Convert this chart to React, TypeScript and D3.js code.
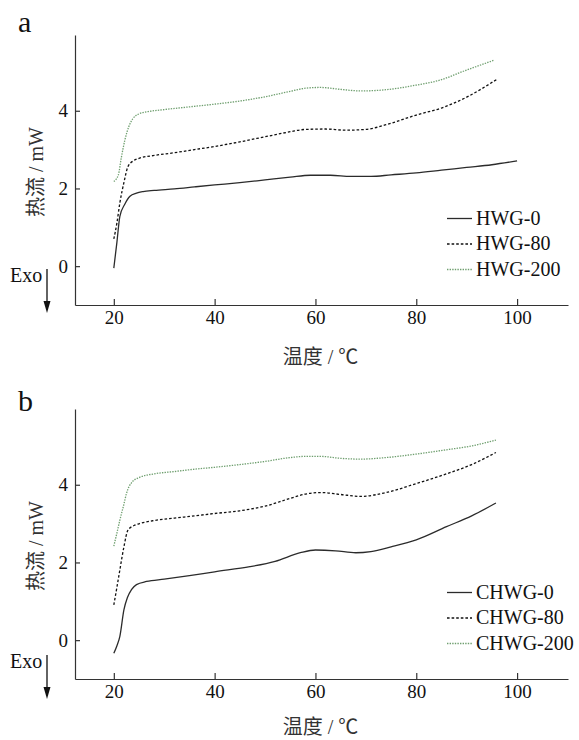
import React, { useRef, useEffect } from "react";
import * as d3 from "d3";

// ---- panel a (HWG) : temperature (°C) / heat flow (mW)
const hwg0T = [20, 20.6, 21.2, 22.2, 23.2, 24.5, 25.8, 28, 32, 36, 40, 45, 50, 55, 59, 63, 67, 71, 75, 80, 85, 90, 95, 100];
const hwg0Q = [-0.05, 0.6, 1.28, 1.6, 1.8, 1.88, 1.92, 1.95, 1.99, 2.04, 2.09, 2.15, 2.22, 2.29, 2.34, 2.34, 2.31, 2.31, 2.35, 2.4, 2.47, 2.54, 2.61, 2.71];
const hwg80T = [20, 20.6, 21.2, 22, 22.8, 24, 25.1, 28, 32, 36, 40, 45, 50, 55, 58, 62, 66, 70, 75, 80, 85, 90, 96];
const hwg80Q = [0.7, 1.1, 1.63, 2.15, 2.56, 2.72, 2.78, 2.85, 2.92, 3.0, 3.08, 3.2, 3.33, 3.46, 3.52, 3.53, 3.5, 3.52, 3.68, 3.89, 4.07, 4.35, 4.81];
const hwg200T = [20, 20.9, 21.5, 22.2, 23, 23.8, 25, 26.5, 30, 35, 40, 45, 50, 55, 58, 61, 65, 69, 73, 80, 85, 89, 95.4];
const hwg200Q = [2.18, 2.35, 2.8, 3.25, 3.6, 3.8, 3.92, 3.97, 4.03, 4.1, 4.17, 4.25, 4.36, 4.5, 4.58, 4.6, 4.55, 4.51, 4.53, 4.66, 4.8, 5.0, 5.3];

// ---- panel b (CHWG)
const chwg0T = [20, 20.6, 21.2, 22, 22.7, 23.5, 24.5, 26.5, 30, 35, 40, 47, 52, 57, 60, 64, 68, 71, 75, 80, 86, 91, 95.8];
const chwg0Q = [-0.34, -0.15, 0.1, 0.78, 1.1, 1.3, 1.43, 1.51, 1.57, 1.66, 1.76, 1.89, 2.03, 2.25, 2.32, 2.3, 2.25, 2.28, 2.4, 2.58, 2.92, 3.2, 3.53];
const chwg80T = [20, 20.6, 21.2, 22, 22.8, 24, 25.1, 28, 32, 36, 40, 45, 50, 55, 58, 61, 65, 69, 74, 80, 86, 91, 95.8];
const chwg80Q = [0.91, 1.35, 1.81, 2.4, 2.83, 2.95, 3.0, 3.08, 3.14, 3.2, 3.26, 3.33, 3.45, 3.65, 3.76, 3.8, 3.75, 3.7, 3.8, 4.03, 4.28, 4.52, 4.83];
const chwg200T = [20, 20.6, 21.2, 22, 22.5, 23.5, 25.1, 28, 32, 36, 40, 45, 50, 55, 58, 61, 65, 69, 74, 80, 86, 91, 95.8];
const chwg200Q = [2.42, 2.75, 3.09, 3.5, 3.77, 4.05, 4.19, 4.28, 4.34, 4.4, 4.45, 4.52, 4.6, 4.7, 4.73, 4.73, 4.68, 4.66, 4.7, 4.79, 4.9, 5.0, 5.15];

const namesA = ["HWG-0", "HWG-80", "HWG-200"];
const namesB = ["CHWG-0", "CHWG-80", "CHWG-200"];

const xTicks = [20, 40, 60, 80, 100];
const yTicks = [0, 2, 4];

const W = 579,
	H = 740;
const serif = "Liberation Serif, Times New Roman, Noto Sans CJK SC, serif";

const lineStyles = [
	{ stroke: "#2b2b2b", dash: null, width: 1.3 },
	{ stroke: "#111", dash: "2.6,2", width: 1.3 },
	{ stroke: "#6f9f6f", dash: "1.4,1.2", width: 1.3 },
];

const drawPanel = (svg, cfg) => {
	const top = cfg.top,
		bottom = top + 270;

	const x = d3.scaleLinear().domain([12.3, 110.1]).range([75, 568]);
	const y = d3.scaleLinear().domain([-1, 5.95]).range([bottom, top]);

	const g = svg.append("g");

	// axes
	const xAxis = g
		.append("g")
		.attr("transform", "translate(0," + bottom + ")")
		.call(
			d3.axisBottom(x).tickValues(xTicks).tickFormat(d3.format("d")).tickSizeInner(-6).tickSizeOuter(0).tickPadding(6)
		);
	const yAxis = g
		.append("g")
		.attr("transform", "translate(75,0)")
		.call(
			d3.axisLeft(y).tickValues(yTicks).tickFormat(d3.format("d")).tickSizeInner(-5).tickSizeOuter(0).tickPadding(7)
		);

	[xAxis, yAxis].forEach((a) => {
		a.attr("font-family", serif).attr("font-size", 19);
		a.selectAll("path, line").attr("stroke", "#333").attr("stroke-width", 1.2);
		a.selectAll("text").attr("fill", "#111").style("font-family", serif);
	});

	// curves
	const line = d3
		.line()
		.x((d) => x(d[0]))
		.y((d) => y(d[1]))
		.curve(d3.curveMonotoneX);

	cfg.series.forEach((s, i) => {
		const st = lineStyles[i];
		g.append("path")
			.datum(d3.zip(s[0], s[1]))
			.attr("d", line)
			.attr("fill", "none")
			.attr("stroke", st.stroke)
			.attr("stroke-width", st.width)
			.attr("stroke-dasharray", st.dash);
	});

	// legend
	cfg.names.forEach((name, i) => {
		const st = lineStyles[i];
		const ly = top + 183.5 + i * 25.5;
		g.append("line")
			.attr("x1", 447)
			.attr("x2", 472)
			.attr("y1", ly)
			.attr("y2", ly)
			.attr("stroke", st.stroke)
			.attr("stroke-width", st.width)
			.attr("stroke-dasharray", st.dash);
		g.append("text")
			.attr("x", 476)
			.attr("y", ly + 6)
			.style("font-family", serif)
			.attr("font-size", 20)
			.attr("fill", "#111")
			.text(name);
	});

	// titles
	g.append("text")
		.attr("x", 18)
		.attr("y", cfg.letterY)
		.style("font-family", serif)
		.attr("font-size", 30)
		.attr("fill", "#111")
		.text(cfg.letter);

	g.append("text")
		.attr("transform", "translate(43," + (top + 137) + ") rotate(-90)")
		.attr("text-anchor", "middle")
		.style("font-family", serif)
		.attr("font-size", 20)
		.attr("fill", "#333")
		.text("热流 / mW");

	g.append("text")
		.attr("x", 320.5)
		.attr("y", bottom + cfg.titleGap)
		.attr("text-anchor", "middle")
		.style("font-family", serif)
		.attr("font-size", 20)
		.attr("fill", "#333")
		.text("温度 / ℃");

	// Exo arrow
	g.append("text")
		.attr("x", 10)
		.attr("y", cfg.exoY)
		.style("font-family", serif)
		.attr("font-size", 20)
		.attr("fill", "#111")
		.text("Exo");
	g.append("line")
		.attr("x1", 47)
		.attr("x2", 47)
		.attr("y1", cfg.exoY - 13)
		.attr("y2", cfg.exoY + 22)
		.attr("stroke", "#222")
		.attr("stroke-width", 1.4);
	g.append("path")
		.attr(
			"d",
			"M43.5," + (cfg.exoY + 19) + " L50.5," + (cfg.exoY + 19) + " L47," + (cfg.exoY + 31) + " Z"
		)
		.attr("fill", "#111");
};

const App = () => {
	const svgRef = useRef(null);

	useEffect(() => {
		const svg = d3.select(svgRef.current);
		svg.selectAll("*").remove();

		drawPanel(svg, {
			top: 35,
			letter: "a",
			letterY: 32,
			exoY: 282,
			titleGap: 59,
			names: namesA,
			series: [
				[hwg0T, hwg0Q],
				[hwg80T, hwg80Q],
				[hwg200T, hwg200Q],
			],
		});
		drawPanel(svg, {
			top: 409,
			letter: "b",
			letterY: 411,
			exoY: 668,
			titleGap: 55,
			names: namesB,
			series: [
				[chwg0T, chwg0Q],
				[chwg80T, chwg80Q],
				[chwg200T, chwg200Q],
			],
		});
	}, []);

	return (
		<svg
			ref={svgRef}
			width={W}
			height={H}
			style={{ position: "absolute", left: 0, top: 0, background: "#fff" }}
		/>
	);
};

export default App;
